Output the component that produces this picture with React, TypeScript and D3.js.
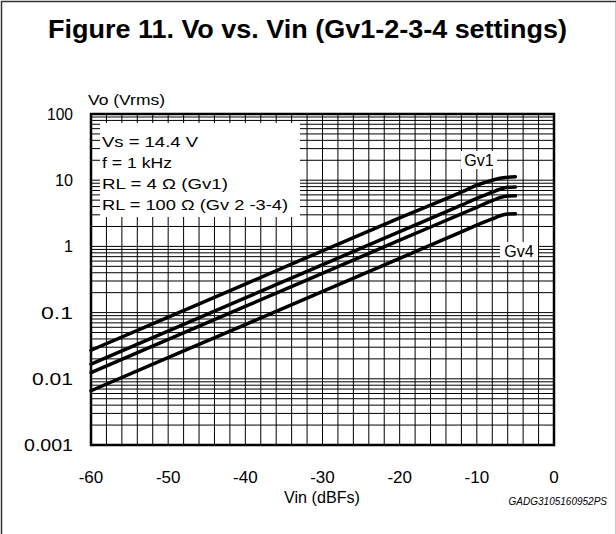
import React from 'react';
import * as d3 from 'd3';

// Vin (dBFs) sample positions
const vin = [-60, -40, -20, -12, -10, -8, -7, -6, -5];

// Vo (Vrms) for each gain setting
const gv1 = [0.027, 0.27, 2.7, 6.6, 8.4, 10.0, 10.7, 11.1, 11.3];
const gv2 = [0.0167, 0.167, 1.67, 4.2, 5.3, 6.6, 7.3, 7.8, 7.9];
const gv3 = [0.0124, 0.124, 1.24, 3.1, 3.9, 4.9, 5.45, 5.75, 5.8];
const gv4 = [0.0066, 0.066, 0.66, 1.66, 2.1, 2.6, 2.9, 3.08, 3.1];

const series = [gv1, gv2, gv3, gv4];

const xTicks = [-60, -50, -40, -30, -20, -10, 0];
const yTicks = [100, 10, 1, 0.1, 0.01, 0.001];
const yTickLabels = ['100', '10', '1', '0.1', '0.01', '0.001'];
// the source's decimal labels are drawn wider than usual
const yTickWidths = [26, 18, 9, 32, 41, 49];

const legendLines = ['Vs = 14.4 V', 'f = 1 kHz', 'RL = 4 \u03a9 (Gv1)', 'RL = 100 \u03a9 (Gv 2 -3-4)'];
const legendWidths = [96, 70, 126, 186];

const W = 616;
const H = 534;
const margin = { top: 114, right: 62, bottom: 89, left: 91 };
const font = '"Liberation Sans", Arial, sans-serif';

const App: React.FC = () => {
  const x = d3.scaleLinear().domain([-60, 0]).range([margin.left, W - margin.right]);
  const y = d3.scaleLog().domain([0.001, 100]).range([H - margin.bottom, margin.top]);

  const [x0, x1] = x.range();
  const [y0, y1] = y.range();

  const vGrid = d3.range(-58, 0, 2);
  const hGrid = y.ticks().filter(t => t > 0.001 && t < 100);

  const line = d3.line<number>()
    .x((_, i) => x(vin[i]))
    .y(d => y(d))
    .curve(d3.curveMonotoneX);

  return (
    <svg width={W} height={H} style={{ position: 'absolute', left: 0, top: 0, background: '#fff' }} fontFamily={font}>
      <rect x={1.5} y={1.5} width={W - 1} height={H + 10} fill="none" stroke="#333" strokeWidth={1.5} />

      <text x={48} y={38} fontSize={25} fontWeight="bold" textLength={519} lengthAdjust="spacingAndGlyphs">
        Figure 11. Vo vs. Vin (Gv1-2-3-4 settings)
      </text>

      {/* grid */}
      <g stroke="#000" strokeWidth={1}>
        {vGrid.map(v => (
          <line key={'v' + v} x1={x(v)} x2={x(v)} y1={y1} y2={y0} />
        ))}
        {hGrid.map(v => (
          <line key={'h' + v} x1={x0} x2={x1} y1={y(v)} y2={y(v)} />
        ))}
      </g>

      {/* legend box covering grid */}
      <rect x={100} y={123} width={200} height={94} fill="#fff" />
      <g fontSize={15}>
        {legendLines.map((t, i) => (
          <text key={t} x={102} y={147 + i * 21} textLength={legendWidths[i]} lengthAdjust="spacingAndGlyphs">{t}</text>
        ))}
      </g>

      {/* curves */}
      <g fill="none" stroke="#000" strokeWidth={3.5} strokeLinecap="round">
        {series.map((s, i) => (
          <path key={i} d={line(s) || ''} />
        ))}
      </g>

      {/* series labels */}
      <rect x={461} y={151} width={36} height={18} fill="#fff" />
      <text x={479} y={166} textAnchor="middle" fontSize={16}>Gv1</text>
      <rect x={500} y={242} width={38} height={18} fill="#fff" />
      <text x={519} y={257} textAnchor="middle" fontSize={16}>Gv4</text>

      <rect x={x0} y={y1} width={x1 - x0} height={y0 - y1} fill="none" stroke="#000" strokeWidth={2.5} />

      {/* axis labels */}
      <g fontSize={16}>
        {yTicks.map((t, i) => (
          <text key={t} x={73 - yTickWidths[i]} y={y(t) + 6} textLength={yTickWidths[i]} lengthAdjust="spacingAndGlyphs">{yTickLabels[i]}</text>
        ))}
      </g>
      <g fontSize={17}>
        {xTicks.map(t => (
          <text key={t} x={x(t)} y={483} textAnchor="middle">{t}</text>
        ))}
      </g>
      <text x={88} y={105} fontSize={15} textLength={77} lengthAdjust="spacingAndGlyphs">Vo (Vrms)</text>
      <text x={284} y={503} fontSize={16} textLength={76} lengthAdjust="spacingAndGlyphs">Vin (dBFs)</text>
      <text x={607} y={505} textAnchor="end" fontSize={10} fontStyle="italic">GADG3105160952PS</text>
    </svg>
  );
};

export default App;
